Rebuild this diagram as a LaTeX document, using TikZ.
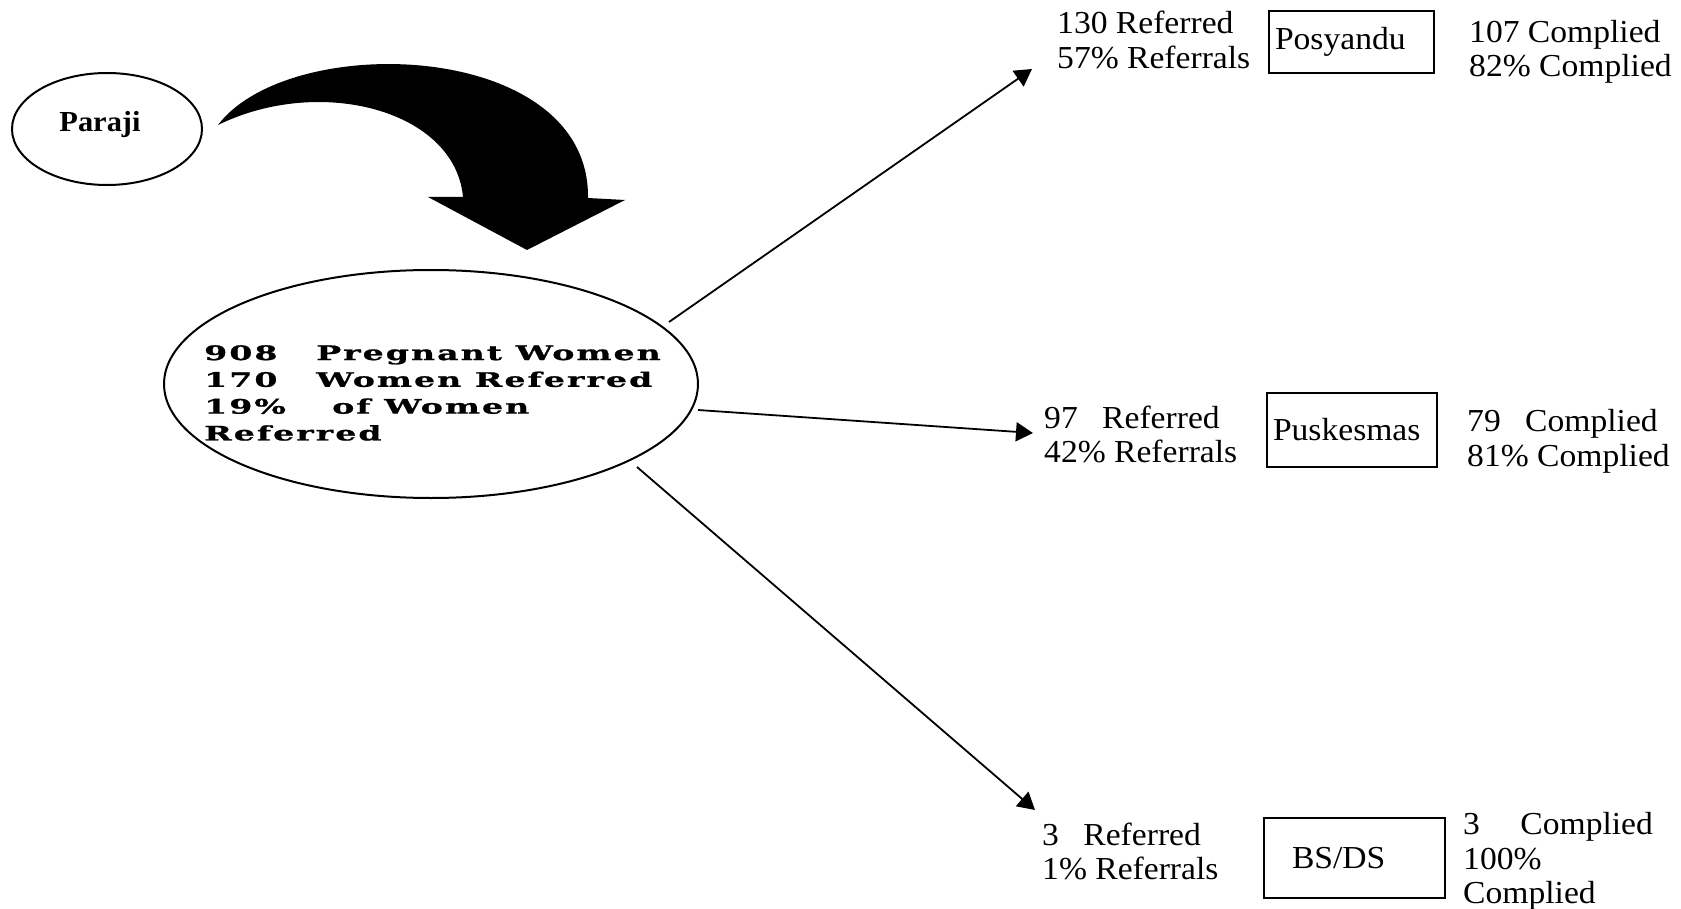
\documentclass[tikz,border=0pt]{standalone}
\usepackage{fontspec}
\setmainfont{Liberation Serif}[FakeStretch=1.05]
\newfontfamily\slabfont[FakeStretch=1.66,LetterSpace=10,FakeBold=1]{DejaVu Serif}
\usetikzlibrary{arrows.meta,shapes.geometric}
\begin{document}
\begin{tikzpicture}[x=1pt,y=-1pt,
  lbl/.style={anchor=north west,align=left,inner sep=0pt,font=\fontsize{32}{34.5}\selectfont},
  boxnode/.style={draw,line width=1.5pt,rectangle,align=left,inner ysep=0pt,font=\fontsize{32}{34.5}\selectfont},
  link/.style={line width=1.8pt,-{Triangle[length=17pt,width=19pt]}}]
\useasboundingbox (0,0) rectangle (1681,909);
\fill[white] (0,0) rectangle (1681,909);

\node[ellipse,draw,line width=2pt,minimum width=190pt,minimum height=112pt] (paraji) at (107,129) {};
\node[font=\fontsize{29}{30}\selectfont\bfseries,inner sep=0pt] (parajitext) at (100,125) {Paraji};

\fill (218,125) .. controls (290,30) and (590,40) .. (588,198) -- (625,200) -- (527,250) -- (428,197) -- (463,197) .. controls (455,110) and (320,75) .. (218,125) -- cycle;

\node[ellipse,draw,line width=2pt,minimum width=534pt,minimum height=228pt] (women) at (431,384) {};
\node[anchor=north west,align=left,inner sep=0pt,font=\slabfont\bfseries\fontsize{20}{26.8}\selectfont] (womentext) at (204,345)
  {\makebox[112pt][l]{908}Pregnant Women\\ \makebox[112pt][l]{170}Women Referred\\ \makebox[112pt][l]{19\%}\hspace{16pt}of Women\\ Referred};

\coordinate (s1) at (669,322); \coordinate (t1) at (1032,69);
\coordinate (s2) at (698,410); \coordinate (t2) at (1033,433);
\coordinate (s3) at (637,467); \coordinate (t3) at (1035,810);
\draw[link] (s1) -- (t1);
\draw[link] (s2) -- (t2);
\draw[link] (s3) -- (t3);

\node[lbl] (ref1) at (1057,11) {130 Referred\\57\% Referrals};
\node[boxnode,text width=153pt,inner xsep=6pt,minimum height=62pt] (posyandu) at (1351.5,42) {Posyandu};
\node[lbl] (comp1) at (1469,20) {107 Complied\\82\% Complied};

\node[lbl] (ref2) at (1044,405.5) {97\hspace{0.5em} Referred\\42\% Referrals};
\node[boxnode,text width=158pt,inner xsep=6pt,minimum height=74pt] (puskesmas) at (1352,430) {Puskesmas};
\node[lbl] (comp2) at (1467,409.5) {79\hspace{0.5em} Complied\\81\% Complied};

\node[lbl] (ref3) at (1042,822.5) {3\hspace{0.5em} Referred\\1\% Referrals};
\node[boxnode,text width=125pt,inner xsep=28pt,minimum height=80pt] (bsds) at (1354.5,858) {BS/DS};
\node[lbl] (comp3) at (1463,812.5) {3\hspace{1em} Complied\\100\%\\Complied};
\end{tikzpicture}
\end{document}
